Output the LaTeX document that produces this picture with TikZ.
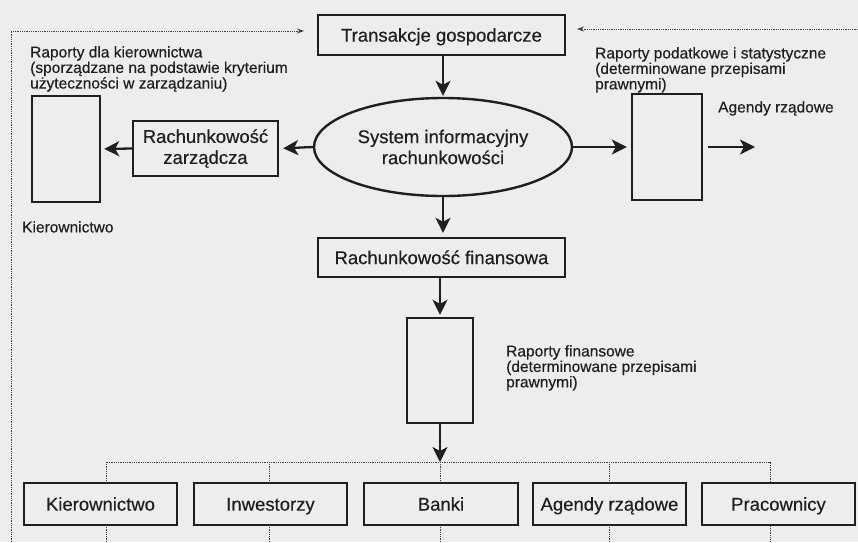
\documentclass[tikz,border=0pt]{standalone}
\usepackage{fontspec}
\setmainfont[FakeBold=0.4]{Liberation Sans}
\usetikzlibrary{arrows.meta,shapes.geometric}
\definecolor{bg}{gray}{0.93}
\definecolor{ink}{gray}{0.12}
\begin{document}
\begin{tikzpicture}[x=1pt,y=-1pt,
  box/.style={draw=ink,line width=2.4pt,fill=bg,inner sep=0pt,
    font=\fontsize{18.5}{21}\selectfont,align=center,text=ink},
  oneline/.style={text height=13.2pt,text depth=0pt},
  lab/.style={anchor=north west,inner sep=0pt,align=left,
    font=\fontsize{15.5}{14.3}\selectfont,text=ink},
  arr/.style={draw=ink,line width=2.3pt,-{Stealth[length=15pt,width=15pt,inset=4pt]}},
  dots/.style={draw=ink!85,line width=0.9pt,dash pattern=on 0.9pt off 0.9pt},
  dotarr/.style={dots,-{Stealth[length=7pt,width=5pt]}}]
\fill[bg] (0,0) rectangle (858,542);
\useasboundingbox (0,0) rectangle (858,542);

% feedback and distribution dotted lines (behind boxes)
\coordinate (fbB) at (11,542);
\coordinate (fbC) at (11,31);
\coordinate (fbT) at (304,31);
\coordinate (fbR) at (858,29);
\coordinate (fbRt) at (577,29);
\coordinate (busL) at (106,462);
\coordinate (busR) at (770,462);
\coordinate (d1) at (106,542);
\coordinate (d2) at (269,542);
\coordinate (d3) at (440,542);
\coordinate (d4) at (609,542);
\coordinate (d5) at (770,542);
\coordinate (b2) at (269,462);
\coordinate (b3) at (440,462);
\coordinate (b4) at (609,462);
\draw[dotarr] (fbB) -- (fbC) -- (fbT);
\draw[dotarr] (fbR) -- (fbRt);
\draw[dots] (d1) -- (busL) -- (busR) -- (d5);
\draw[dots] (b2) -- (d2);
\draw[dots] (b3) -- (d3);
\draw[dots] (b4) -- (d4);

% main nodes
\node[box,oneline,minimum width=247pt,minimum height=40pt] (trans) at (441.5,35) {Transakcje gospodarcze};
\node[box,ellipse,minimum width=258pt,minimum height=98pt] (sys) at (443,147) {System informacyjny\\rachunkowości};
\node[box,minimum width=145pt,minimum height=55pt] (rz) at (205.5,148.5) {Rachunkowość\\zarządcza};
\node[box,minimum width=68pt,minimum height=106pt] (kbox) at (66,149) {};
\node[box,minimum width=70pt,minimum height=106pt] (abox) at (667,147) {};
\node[box,oneline,minimum width=247pt,minimum height=39pt] (rf) at (441.5,257.5) {Rachunkowość finansowa};
\node[box,minimum width=66pt,minimum height=105pt] (fbox) at (440,370.5) {};

% bottom recipients
\node[box,oneline,minimum width=153pt,minimum height=42pt] (k2) at (100.5,504) {Kierownictwo};
\node[box,oneline,minimum width=153pt,minimum height=42pt] (inw) at (270.5,504) {Inwestorzy};
\node[box,oneline,minimum width=154pt,minimum height=42pt] (banki) at (441,504) {Banki};
\node[box,oneline,minimum width=153pt,minimum height=42pt] (agendy) at (609.5,504) {Agendy rządowe};
\node[box,oneline,minimum width=153pt,minimum height=42pt] (prac) at (778.5,504) {Pracownicy};

% labels
\node[lab] (l1) at (30,46) {Raporty dla kierownictwa\\(sporządzane na podstawie kryterium\\użyteczności w zarządzaniu)};
\node[lab] (l2) at (595,47) {Raporty podatkowe i statystyczne\\(determinowane przepisami\\prawnymi)};
\node[lab] (l3) at (718,101) {Agendy rządowe};
\node[lab] (l4) at (22,221) {Kierownictwo};
\node[lab] (l5) at (506,345) {Raporty finansowe\\(determinowane przepisami\\prawnymi)};

% arrows
\coordinate (aEnd) at (755,147);
\draw[arr,shorten >=1pt] (trans.south -| sys.north) -- (sys.north);
\draw[arr,shorten >=4pt] (sys.west) -- (rz.east);
\draw[arr,shorten >=3pt] (rz.west) -- (kbox.east);
\draw[arr,shorten >=4pt] (sys.east) -- (abox.west);
\draw[arr] (abox.east) ++(5,0) -- (aEnd);
\draw[arr,shorten >=4pt] (sys.south) -- (sys.south |- rf.north);
\draw[arr,shorten >=2pt] (rf.south -| fbox.north) -- (fbox.north);
\draw[arr] (fbox.south) -- (b3);
\end{tikzpicture}
\end{document}
